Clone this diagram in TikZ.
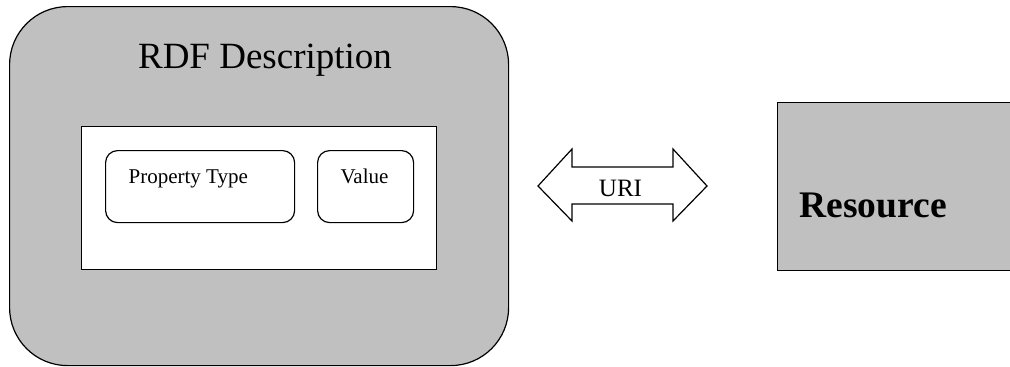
\documentclass[tikz,border=0pt]{standalone}
\usepackage{fontspec}
\setmainfont{Liberation Serif}
\definecolor{boxgray}{HTML}{C0C0C0}
\begin{document}
\begin{tikzpicture}[x=1pt,y=-1pt,line width=1.2pt,
  bigbox/.style={draw=black,fill=boxgray,rounded corners=58pt,inner sep=0pt,anchor=north west},
  plainbox/.style={draw=black,fill=white,inner sep=0pt,anchor=north west},
  smallbox/.style={draw=black,fill=white,rounded corners=12pt,inner sep=0pt,anchor=north west},
  resbox/.style={draw=black,fill=boxgray,inner sep=0pt,anchor=north west},
  lbl/.style={inner sep=0pt,anchor=base west}]
\clip (0,0) rectangle (1010,367);
\fill[white] (0,0) rectangle (1010,367);
% RDF Description container
\node[bigbox,minimum width=499pt,minimum height=359pt] (rdf) at (9,6) {};
\node[inner sep=0pt,anchor=base] (rdft) at (265,68) {\fontsize{37}{40}\selectfont RDF Description};
\node[plainbox,minimum width=355pt,minimum height=143pt] (inner) at (81,126) {};
\node[smallbox,minimum width=189pt,minimum height=72pt] (prop) at (105,150) {};
\node[lbl] (propt) at (128,183) {\fontsize{21}{24}\selectfont Property Type};
\node[smallbox,minimum width=96pt,minimum height=72pt] (val) at (317,150) {};
\node[lbl] (valt) at (340,183) {\fontsize{21}{24}\selectfont Value};
% URI double arrow
\draw[fill=white,line join=miter] (538,186) -- (572,149) -- (572,167) -- (673,167) -- (673,149)
  -- (707,186) -- (673,221) -- (673,204) -- (572,204) -- (572,221) -- cycle;
\node[inner sep=0pt,anchor=base] (uri) at (620.5,196) {\fontsize{25}{28}\selectfont URI};
% Resource
\node[resbox,minimum width=245pt,minimum height=168pt] (res) at (777,102) {};
\node[lbl] (rest) at (799,217) {\fontsize{37.5}{40}\selectfont\bfseries Resource};
\end{tikzpicture}
\end{document}
